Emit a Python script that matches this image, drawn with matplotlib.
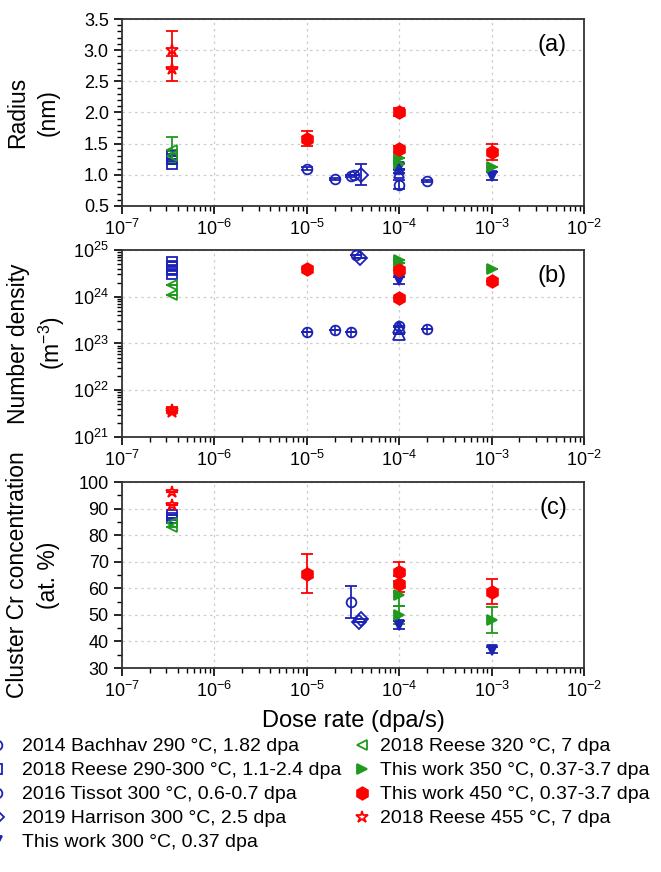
import numpy as np
import matplotlib
matplotlib.use("Agg")
import matplotlib.pyplot as plt
from matplotlib.lines import Line2D
from matplotlib.ticker import LogLocator, MultipleLocator, NullFormatter

plt.rcParams['font.family'] = ['Liberation Sans', 'DejaVu Sans']
plt.rcParams['mathtext.fontset'] = 'custom'
plt.rcParams['mathtext.rm'] = 'Liberation Sans'

# Datos: (dosis dpa/s, valor, error)
bachhav_r = [(3.2e-5, 1.00, 0.0)]
bachhav_n = [(3.4e-5, 7.8e24, 0.0)]
bachhav_c = [(3.0e-5, 55.0, 6.0)]

reese290_r = [(3.5e-7, 1.18, 0.0), (3.5e-7, 1.25, 0.0), (3.5e-7, 1.30, 0.0)]
reese290_n = [(3.5e-7, 5.6e24, 0.0), (3.5e-7, 4.6e24, 0.0), (3.5e-7, 3.7e24, 0.0), (3.5e-7, 3.0e24, 0.0)]
reese290_c = [(3.5e-7, 87.6, 0.0), (3.5e-7, 86.4, 0.0)]

tissot_r = [(1e-5, 1.10, 0.02), (2e-5, 0.93, 0.02), (3e-5, 0.98, 0.02), (1e-4, 0.84, 0.07), (2e-4, 0.90, 0.02)]
tissot_n = [(1e-5, 1.75e23, 0.0), (2e-5, 1.9e23, 0.0), (3e-5, 1.75e23, 0.0), (1e-4, 2.4e23, 0.0), (2e-4, 2.05e23, 0.0)]
tissot_c = []

harrison_r = [(3.9e-5, 1.00, 0.17)]
harrison_n = [(3.8e-5, 6.6e24, 0.0)]
harrison_c = [(3.7e-5, 47.5, 0.0), (3.9e-5, 48.3, 0.0)]

extra_r = [(1e-4, 1.03, 0.0), (1e-4, 1.10, 0.0)]
extra_n = [(1e-4, 2.3e23, 0.0), (1e-4, 1.6e23, 0.0)]

work300_r = [(1e-4, 1.12, 0.05), (1e-3, 0.98, 0.06)]
work300_n = [(1e-4, 2.3e24, 4e23)]
work300_c = [(1e-4, 46.2, 1.5), (1e-3, 36.8, 1.0)]

reese320_r = [(3.5e-7, 1.40, 0.2), (3.5e-7, 1.30, 0.1)]
reese320_n = [(3.5e-7, 1.8e24, 0.0), (3.5e-7, 1.1e24, 0.0)]
reese320_c = [(3.5e-7, 84.5, 0.0), (3.5e-7, 83.2, 0.0)]

work350_r = [(1e-4, 1.27, 0.0), (1e-4, 1.18, 0.0), (1e-3, 1.13, 0.0)]
work350_n = [(1e-4, 6.2e24, 0.0), (1e-4, 5.2e24, 0.0), (1e-3, 3.9e24, 0.0)]
work350_c = [(1e-4, 57.5, 4.0), (1e-4, 50.0, 3.5), (1e-3, 48.1, 5.0)]

work450_r = [(1e-5, 1.58, 0.12), (1e-4, 2.01, 0.06), (1e-4, 1.42, 0.05), (1e-3, 1.36, 0.13)]
work450_n = [(1e-5, 3.9e24, 0.0), (1e-4, 3.7e24, 0.0), (1e-4, 9.3e23, 0.0), (1e-3, 2.2e24, 0.0)]
work450_c = [(1e-5, 65.5, 7.3), (1e-4, 66.3, 3.5), (1e-4, 61.5, 3.0), (1e-3, 58.8, 4.8)]

reese455_r = [(3.5e-7, 3.00, 0.3), (3.5e-7, 2.70, 0.2)]
reese455_n = [(3.5e-7, 3.8e21, 5e20), (3.5e-7, 3.4e21, 0.0)]
reese455_c = [(3.5e-7, 96.1, 0.0), (3.5e-7, 91.3, 0.0)]

azul = '#1c22b4'
rojo = '#ff0000'
verde = '#1f9a1f'

series = [
    ("2014 Bachhav 290 °C, 1.82 dpa", bachhav_r, bachhav_n, bachhav_c, 'o', azul, False),
    ("2018 Reese 290-300 °C, 1.1-2.4 dpa", reese290_r, reese290_n, reese290_c, 's', azul, False),
    ("2016 Tissot 300 °C, 0.6-0.7 dpa", tissot_r, tissot_n, tissot_c, 'o', azul, False),
    ("2019 Harrison 300 °C, 2.5 dpa", harrison_r, harrison_n, harrison_c, 'D', azul, False),
    ("This work 300 °C, 0.37 dpa", work300_r, work300_n, work300_c, 'v', azul, True),
    ("2018 Reese 320 °C, 7 dpa", reese320_r, reese320_n, reese320_c, '<', verde, False),
    ("This work 350 °C, 0.37-3.7 dpa", work350_r, work350_n, work350_c, '>', verde, True),
    ("This work 450 °C, 0.37-3.7 dpa", work450_r, work450_n, work450_c, 'h', rojo, True),
    ("2018 Reese 455 °C, 7 dpa", reese455_r, reese455_n, reese455_c, '*', rojo, False),
]

fig = plt.figure(figsize=(6.61, 8.72), dpi=100)
izq, ancho = 0.1846, 0.699
ax1 = fig.add_axes([izq, 0.7638, ancho, 0.2144])
ax2 = fig.add_axes([izq, 0.4989, ancho, 0.2144])
ax3 = fig.add_axes([izq, 0.2339, ancho, 0.2133])
ejes = [ax1, ax2, ax3]


def dibujar(ax, datos, marker, color, lleno, ms=7):
    if not datos:
        return
    x = [d[0] for d in datos]
    y = [d[1] for d in datos]
    e = [d[2] for d in datos]
    ax.errorbar(x, y, yerr=e, fmt=marker, color=color, ms=ms,
                mfc=color if lleno else 'none', mec=color, mew=1.3,
                elinewidth=1.3, capsize=4, capthick=1.3, zorder=3)


handles = []
for nombre, dr, dn, dc, mk, col, lleno in series:
    ms = 9 if mk in ('h', '*') else 7
    for ax, d in zip(ejes, (dr, dn, dc)):
        dibujar(ax, d, mk, col, lleno, ms)
    handles.append(Line2D([], [], ls='none', marker=mk, color=col, ms=ms,
                          mfc=col if lleno else 'none', mew=1.3, label=nombre))

# cruz interior de los circulos de Tissot en (b)
ax2.plot([d[0] for d in tissot_n], [d[1] for d in tissot_n], '+', color=azul, ms=7, mew=1.2, zorder=4)
# triangulos abiertos sin leyenda
dibujar(ax1, extra_r, '^', azul, False)
dibujar(ax2, extra_n, '^', azul, False, 8)

for ax in ejes:
    ax.set_xscale('log')
    ax.set_xlim(1e-7, 1e-2)
    ax.xaxis.set_major_locator(LogLocator(base=10, numticks=10))
    ax.xaxis.set_minor_locator(LogLocator(base=10, subs=np.arange(2, 10), numticks=20))
    ax.xaxis.set_minor_formatter(NullFormatter())
    ax.grid(True, which='major', ls=(0, (2, 3)), color='#cccccc', lw=0.9)
    ax.tick_params(which='major', length=6, width=1.2, labelsize=13, direction='out')
    ax.tick_params(which='minor', length=3.5, width=1.0, direction='out')
    for s in ax.spines.values():
        s.set_linewidth(1.3)
        s.set_color('#333333')

ax1.set_ylim(0.5, 3.5)
ax1.yaxis.set_major_locator(MultipleLocator(0.5))
ax1.yaxis.set_minor_locator(MultipleLocator(0.1))
ax1.set_ylabel("Radius\n(nm)", fontsize=16.5, linespacing=1.4)

ax2.set_yscale('log')
ax2.set_ylim(1e21, 1e25)
ax2.yaxis.set_major_locator(LogLocator(base=10, numticks=10))
ax2.yaxis.set_minor_locator(LogLocator(base=10, subs=np.arange(2, 10), numticks=20))
ax2.yaxis.set_minor_formatter(NullFormatter())
ax2.set_ylabel("Number density\n(m$^{-3}$)", fontsize=16.5, linespacing=1.3)

ax3.set_ylim(30, 100)
ax3.yaxis.set_major_locator(MultipleLocator(10))
ax3.yaxis.set_minor_locator(MultipleLocator(5))
ax3.set_ylabel("Cluster Cr concentration\n(at. %)", fontsize=16.5, linespacing=1.4)
ax3.set_xlabel("Dose rate (dpa/s)", fontsize=17, labelpad=6)

ax1.yaxis.set_label_coords(-0.135, 0.5)
ax2.yaxis.set_label_coords(-0.118, 0.5)
ax3.yaxis.set_label_coords(-0.135, 0.5)

for ax, letra in zip(ejes, ["(a)", "(b)", "(c)"]):
    ax.text(0.963, 0.86, letra, transform=ax.transAxes, fontsize=17, ha='right', va='center')

# leyenda izquierda recortada en el borde, como en el original
leg1 = fig.legend(handles=handles[:5], loc='upper left', bbox_to_anchor=(-0.017, 0.154),
                  frameon=False, fontsize=14, handlelength=0.8, handletextpad=0.9,
                  labelspacing=0.33, borderpad=0, borderaxespad=0)
leg2 = fig.legend(handles=handles[5:], loc='upper left', bbox_to_anchor=(0.536, 0.154),
                  frameon=False, fontsize=14, handlelength=0.8, handletextpad=0.5,
                  labelspacing=0.33, borderpad=0, borderaxespad=0)

fig.savefig("out.png", dpi=100)
